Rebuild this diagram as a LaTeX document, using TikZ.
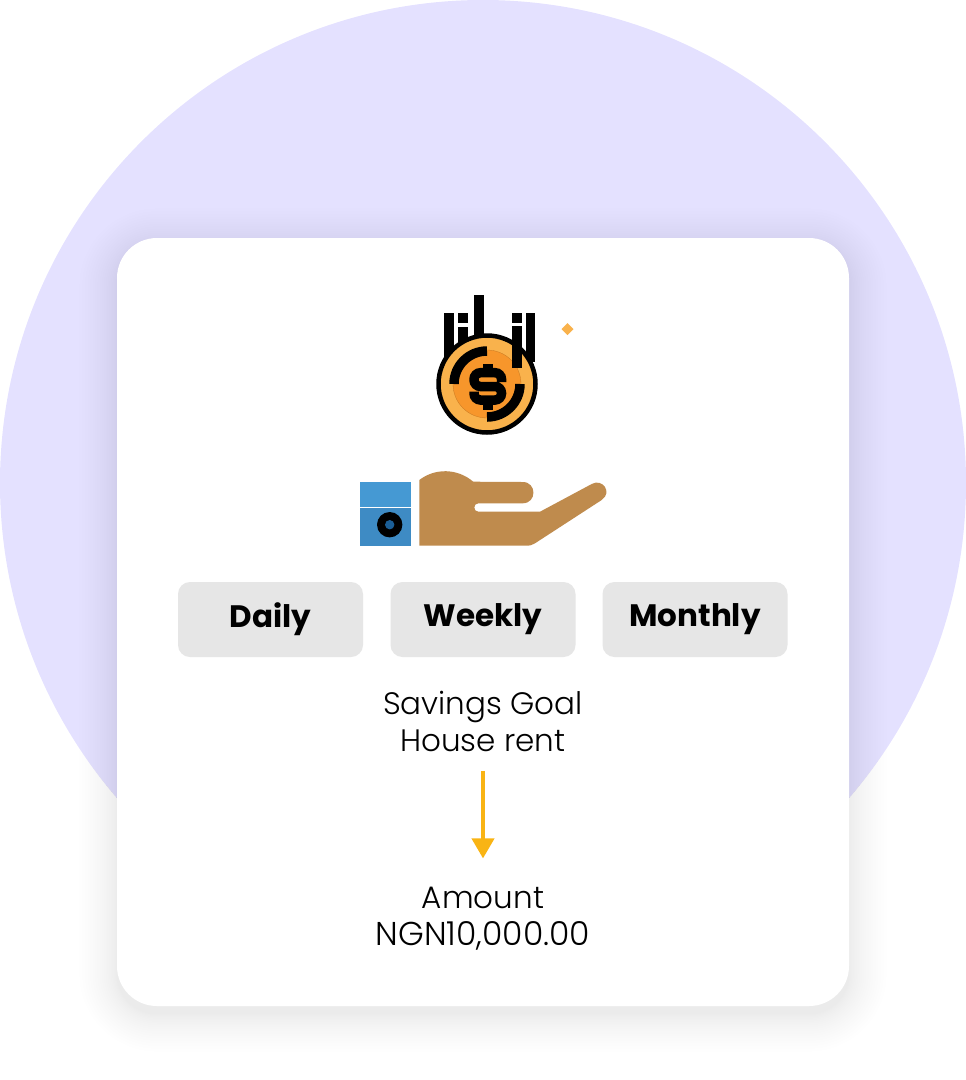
\documentclass[tikz,border=0pt]{standalone}
\usepackage{fontspec}
\setmainfont{Poppins}
\newfontfamily\thinfont{Poppins Light}
\usetikzlibrary{arrows.meta,positioning}
\definecolor{discbg}{HTML}{E4E1FF}
\definecolor{coinedge}{HTML}{F9B24C}
\definecolor{coinmid}{HTML}{F7962B}
\definecolor{skin}{HTML}{BF8B4D}
\definecolor{cuffup}{HTML}{4599D3}
\definecolor{cufflow}{HTML}{3E8BC4}
\definecolor{stud}{HTML}{1B5E96}
\definecolor{pillbg}{HTML}{E6E6E6}
\definecolor{flowcol}{HTML}{F9B414}
\begin{document}
\begin{tikzpicture}[
    x=1pt, y=-1pt,
    pill/.style={fill=pillbg, rounded corners=12pt, minimum width=185pt, minimum height=75pt,
        inner sep=0pt, font=\fontsize{31}{36}\selectfont\bfseries},
    caption/.style={align=center, inner sep=0pt, font=\fontsize{31}{37}\selectfont\thinfont},
    flow/.style={-{Triangle[length=20pt,width=22pt]}, line width=4pt, flowcol}
]
\useasboundingbox (0,0) rectangle (966,1080);

% Background disc
\fill[discbg] (483,483) circle[radius=483];

% Card shadow, built up from stacked translucent layers
\foreach \i in {1,...,20} {
    \pgfmathsetmacro{\s}{\i^1.5*0.42}
    \fill[black, opacity=0.0055, rounded corners=40pt+\s*1pt]
        (117-\s,246-\s) rectangle (849+\s,1014+\s);
}

% Card
\fill[white, rounded corners=40pt] (117,238) rectangle (849,1006);

% Falling bars behind the coin
\foreach \xa/\ya/\yb in {444.3/313/362, 458.3/327/350, 474/295/340, 525.7/313/362} {
    \fill[black] (\xa,\ya) rectangle (\xa+9.6,\yb);
}
\fill[black] (458.3,313) rectangle (467.9,323);

% Coin
\draw[line width=4.5pt, fill=coinedge] (487,384) circle[radius=48.5];
\draw[line width=0.3pt, draw=coinmid!80!black, fill=coinmid] (487,384) circle[radius=34];

% Bar in front of the coin
\fill[black] (512.3,313) rectangle (522,323);
\fill[black] (512.3,326) rectangle (522,368);

% Ring pieces
\draw[line width=9.5pt] (487,351) arc[start angle=270, end angle=180, radius=33];
\draw[line width=9.5pt] (487,417) arc[start angle=90, end angle=0, radius=33];

% Dollar sign
\draw[line width=9.5pt, rounded corners=6.5pt] (501.5,382) -- (501.5,372.7) -- (474,372.7)
    -- (474,386.5) -- (501.5,386.5) -- (501.5,400) -- (474,400) -- (474,391.5);
\fill[black] (482.7,364.3) rectangle (492.7,372);
\fill[black] (482.7,401) rectangle (492.7,410);

% Small diamond
\fill[coinedge] (567.5,323) -- (573.5,329) -- (567.5,335) -- (561.5,329) -- cycle;

% Cuff
\fill[cuffup] (360,482) rectangle (411,507.3);
\fill[cufflow] (360,507.8) rectangle (411,545.7);
\fill[black] (389.7,524.7) circle[radius=12.7];
\fill[stud] (389.7,524.7) circle[radius=4.7];

% Hand
\fill[skin] (419.3,480) .. controls (435,468) and (457,468) .. (473.3,481.7)
    -- (522.7,482) .. controls (537,482) and (537,503.3) .. (522.7,503.3)
    -- (478.3,503.3) .. controls (473,503.3) and (473,511.7) .. (478.3,511.7)
    -- (540,511.7) -- (591.7,484) .. controls (602,478) and (613,492) .. (601.7,500)
    -- (535,543.3) .. controls (532,545) and (530,545.7) .. (528,545.7)
    -- (419.3,545.7) -- cycle;

% Period buttons
\node[pill] (daily) at (270.5,619.5) {Daily};
\node[pill] (weekly) at (483,619.5) {Weekly};
\node[pill] (monthly) at (695,619.5) {Monthly};

% Goal and amount
\node[caption, anchor=base] (goal) at (483,751.5) {Savings Goal\\House rent};
\node[caption, anchor=base] (amount) at (483,945.5) {Amount\\{\fontsize{33}{37}\selectfont NGN10,000.00}};
\draw[flow, shorten <=19pt, shorten >=28.5pt] (goal.south) -- (amount.north);

\end{tikzpicture}
\end{document}
